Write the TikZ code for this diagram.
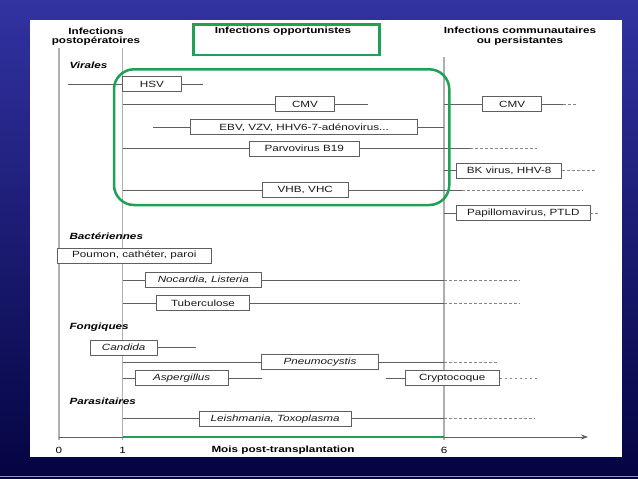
\documentclass[tikz,border=0pt]{standalone}
\usepackage{fontspec}
\setmainfont[FakeStretch=1.3]{Liberation Sans}
\usetikzlibrary{arrows.meta}

\definecolor{vert}{RGB}{30,160,85}
\definecolor{gristrait}{RGB}{95,95,95}
\definecolor{grisaxe}{RGB}{175,175,175}
\definecolor{grissuite}{RGB}{135,135,135}
\definecolor{fondhaut}{RGB}{50,50,162}
\definecolor{fondbas}{RGB}{4,4,66}

\begin{document}
\begin{tikzpicture}[x=1pt,y=-1pt,
  boite/.style={draw=gristrait,fill=white,line width=0.8pt,minimum height=15pt,inner sep=1pt,font=\fontsize{9}{10}\selectfont,text=black!90},
  trait/.style={draw=gristrait,line width=0.7pt},
  suite/.style={draw=grissuite,line width=0.7pt,dash pattern=on 2.5pt off 2.5pt},
  repere/.style={draw=grisaxe,line width=1.2pt},
  titre/.style={font=\bfseries\fontsize{9}{9.6}\selectfont,align=center},
  groupe/.style={font=\bfseries\itshape\fontsize{9}{10}\selectfont,anchor=west}]
\useasboundingbox (0,0) rectangle (638,479);
\shade[top color=fondhaut,bottom color=fondbas] (0,0) rectangle (638,479);
\draw[fill=white,draw=none] (30,19.5) rectangle (622,457);
\draw[draw={rgb,255:red,150;green,150;blue,190},line width=1pt] (0,476) -- (638,476);

% titres
\node[titre] (tpost) at (96,36.5) {Infections\\postopératoires};
\node[titre] (toppo) at (283,31.5) {Infections opportunistes};
\node[titre] (tcomm) at (520,36) {Infections communautaires\\ou persistantes};
\draw[vert,line width=2.5pt] (193.3,24.3) rectangle (379.3,55);

% echelle des mois
\coordinate (m0) at (59,48);
\coordinate (m1) at (122.7,48);
\coordinate (m6) at (444,57);
\coordinate (fin) at (588,437);
\draw[repere] (m0) -- (59,440);
\draw[repere] (m1) -- (122.7,440);
\draw[repere] (m6) -- (444,440);
\draw[draw=gristrait,line width=0.8pt,-{Stealth[length=7pt,width=5pt]}] (m0 |- fin) -- (fin);
\draw[vert,line width=2.5pt] (m1 |- fin) -- (m6 |- fin);
\node[font=\fontsize{9}{10}\selectfont] (l0) at (59,450) {0};
\node[font=\fontsize{9}{10}\selectfont] (l1) at (122.7,450) {1};
\node[font=\fontsize{9}{10}\selectfont] (l6) at (444,450) {6};
\node[titre] (mois) at (283,450) {Mois post-transplantation};

% virales
\node[groupe] (virales) at (66,65.7) {Virales};
\node[boite,minimum width=58.3pt] (hsv) at (151.9,84) {HSV};
\node[boite,minimum width=58.6pt] (cmvA) at (305,104.3) {CMV};
\node[boite,minimum width=59pt] (cmvB) at (512.2,104.3) {CMV};
\node[boite,minimum width=227pt] (ebv) at (304.2,127.3) {EBV, VZV, HHV6-7-adénovirus...};
\node[boite,minimum width=109.7pt] (parvo) at (304.2,148.7) {Parvovirus B19};
\node[boite,minimum width=105pt] (bk) at (509.2,170.7) {BK virus, HHV-8};
\node[boite,minimum width=86pt] (vhb) at (305.3,190) {VHB, VHC};
\node[boite,minimum width=133.3pt] (papillo) at (523.3,213.3) {Papillomavirus, PTLD};

\coordinate (hsvG) at (67.7,84);
\coordinate (hsvD) at (203,84);
\coordinate (cmvAD) at (368,104.3);
\coordinate (cmvBD) at (563,104.3);
\coordinate (cmvBF) at (577,104.3);
\coordinate (ebvG) at (153.3,127.3);
\coordinate (parvoD) at (470,148.7);
\coordinate (parvoF) at (537,148.7);
\coordinate (bkF) at (597,170.7);
\coordinate (vhbD) at (462,190);
\coordinate (vhbF) at (583,190);
\coordinate (papilloF) at (599,213.3);
\draw[trait] (hsvG) -- (hsv.west) (hsv.east) -- (hsvD);
\draw[trait] (m1 |- cmvA) -- (cmvA.west) (cmvA.east) -- (cmvAD);
\draw[trait] (m6 |- cmvB) -- (cmvB.west) (cmvB.east) -- (cmvBD);
\draw[suite] (cmvBD) -- (cmvBF);
\draw[trait] (ebvG) -- (ebv.west) (ebv.east) -- (m6 |- ebv);
\draw[trait] (m1 |- parvo) -- (parvo.west) (parvo.east) -- (parvoD);
\draw[suite] (parvoD) -- (parvoF);
\draw[trait] (m6 |- bk) -- (bk.west);
\draw[suite] (bk.east) -- (bkF);
\draw[trait] (m1 |- vhb) -- (vhb.west) (vhb.east) -- (vhbD);
\draw[suite] (vhbD) -- (vhbF);
\draw[trait] (m6 |- papillo) -- (papillo.west);
\draw[suite] (papillo.east) -- (papilloF);

% bacteriennes
\node[groupe] (bacter) at (66,236) {Bactériennes};
\node[boite,minimum width=153.3pt] (poumon) at (134.3,255.5) {Poumon, cathéter, paroi};
\node[boite,minimum width=116.7pt] (nocardia) at (203.3,280) {\itshape Nocardia, Listeria};
\node[boite,minimum width=92.6pt] (tuber) at (203,303.3) {Tuberculose};
\coordinate (nocardiaF) at (520,280);
\coordinate (tuberF) at (520,303.3);
\draw[trait] (m1 |- nocardia) -- (nocardia.west) (nocardia.east) -- (m6 |- nocardia);
\draw[suite] (m6 |- nocardia) -- (nocardiaF);
\draw[trait] (m1 |- tuber) -- (tuber.west) (tuber.east) -- (m6 |- tuber);
\draw[suite] (m6 |- tuber) -- (tuberF);

% fongiques
\node[groupe] (fongi) at (66,327.3) {Fongiques};
\node[boite,minimum width=67.3pt] (candida) at (123.7,347.7) {\itshape Candida};
\node[boite,minimum width=116.6pt] (pneumo) at (320,362) {\itshape Pneumocystis};
\node[boite,minimum width=93.3pt] (asper) at (181.7,378.3) {\itshape Aspergillus};
\node[boite,minimum width=94.3pt] (crypto) at (452.2,378.3) {Cryptocoque};
\coordinate (candidaD) at (195.7,347.7);
\coordinate (pneumoF) at (498,362);
\coordinate (asperD) at (262.3,378.3);
\coordinate (cryptoG) at (386,378.3);
\coordinate (cryptoF) at (537,378.3);
\draw[trait] (candida.east) -- (candidaD);
\draw[trait] (m1 |- pneumo) -- (pneumo.west) (pneumo.east) -- (m6 |- pneumo);
\draw[suite] (m6 |- pneumo) -- (pneumoF);
\draw[trait] (m1 |- asper) -- (asper.west) (asper.east) -- (asperD);
\draw[trait] (cryptoG) -- (crypto.west);
\draw[suite] (crypto.east) -- (cryptoF);

% parasitaires
\node[groupe] (parasi) at (66,401) {Parasitaires};
\node[boite,minimum width=151.7pt] (leish) at (275.2,418.7) {\itshape Leishmania, Toxoplasma};
\coordinate (leishF) at (535,418.7);
\draw[trait] (m1 |- leish) -- (leish.west) (leish.east) -- (m6 |- leish);
\draw[suite] (m6 |- leish) -- (leishF);

% cadre des virus opportunistes
\draw[vert,line width=2.5pt,rounded corners=20pt] (114,69.3) rectangle (449.3,205);
\end{tikzpicture}
\end{document}
